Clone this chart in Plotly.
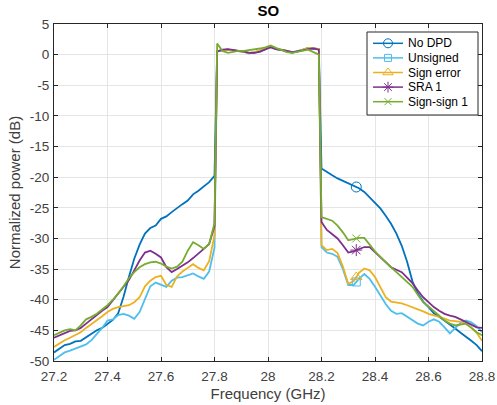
import numpy as np
import plotly.graph_objects as go

# ---------------- data ----------------
freq_left = [27.20, 27.22, 27.24, 27.26, 27.28, 27.30, 27.32, 27.34, 27.36, 27.38,
             27.40, 27.42, 27.44, 27.46, 27.48, 27.50, 27.52, 27.54, 27.56, 27.58,
             27.60, 27.62, 27.64, 27.66, 27.68, 27.70, 27.72, 27.74, 27.76, 27.78, 27.80]
freq_band = [27.81, 27.83, 27.85, 27.87, 27.89, 27.91, 27.93, 27.95, 27.97, 27.99,
             28.01, 28.03, 28.05, 28.07, 28.09, 28.11, 28.13, 28.15, 28.17, 28.19]
freq_right = [28.20, 28.22, 28.24, 28.26, 28.28, 28.30, 28.32, 28.34, 28.36, 28.38,
              28.40, 28.42, 28.44, 28.46, 28.48, 28.50, 28.52, 28.54, 28.56, 28.58,
              28.60, 28.62, 28.64, 28.66, 28.68, 28.70, 28.72, 28.74, 28.76, 28.78, 28.80]

no_dpd_left = [-48.6, -48.0, -47.4, -47.2, -46.8, -46.7, -46.1, -45.6, -45.0, -44.6,
               -43.9, -43.3, -42.2, -39.5, -36.3, -33.3, -31.0, -29.2, -28.3, -27.9,
               -26.8, -26.4, -25.7, -25.0, -24.4, -23.8, -22.8, -22.2, -21.5, -20.8, -19.8]
unsigned_left = [-49.8, -49.2, -48.6, -48.3, -48.0, -47.7, -47.3, -46.6, -45.6, -44.6,
                 -43.4, -43.2, -42.5, -42.3, -42.6, -43.1, -42.0, -39.8, -37.8, -37.2,
                 -37.6, -37.9, -36.9, -36.4, -36.3, -36.0, -35.7, -36.2, -36.6, -35.4, -31.5]
sign_error_left = [-47.7, -47.1, -46.6, -46.2, -45.8, -45.3, -44.6, -44.0, -43.4, -42.7,
                   -42.0, -41.5, -41.2, -41.1, -40.9, -40.4, -39.6, -37.8, -36.9, -36.3,
                   -36.1, -37.6, -37.9, -36.2, -35.4, -34.8, -34.2, -34.8, -35.2, -33.7, -29.5]
sra1_left = [-46.2, -45.8, -45.4, -45.1, -45.0, -44.6, -43.9, -43.2, -42.4, -41.8,
             -41.2, -40.1, -39.0, -37.9, -36.8, -35.2, -33.6, -32.3, -32.0, -32.5,
             -33.1, -34.7, -35.5, -35.0, -34.5, -33.9, -33.2, -32.5, -31.7, -30.9, -28.0]
signsign1_left = [-45.8, -45.4, -45.0, -44.8, -45.0, -44.2, -43.2, -42.8, -42.3, -41.6,
                  -40.9, -40.0, -39.0, -37.8, -36.5, -35.5, -34.7, -34.2, -33.9, -33.8,
                  -34.1, -34.6, -34.9, -34.6, -33.8, -32.0, -30.6, -31.1, -31.7, -30.9, -27.5]

no_dpd_band = [0.6, 0.7, 0.8, 0.7, 0.6, 0.5, 0.2, 0.3, 0.5, 0.9,
               1.3, 0.9, 0.8, 0.6, 0.3, 0.5, 0.8, 1.1, 1.0, 0.9]
unsigned_band = [0.6, 0.7, 0.8, 0.7, 0.6, 0.5, 0.3, 0.4, 0.6, 0.9,
                 1.3, 0.9, 0.8, 0.6, 0.4, 0.5, 0.8, 1.1, 1.0, 0.9]
sign_error_band = [0.6, 0.7, 0.8, 0.7, 0.6, 0.5, 0.3, 0.4, 0.6, 0.9,
                   1.3, 0.9, 0.8, 0.6, 0.4, 0.5, 0.8, 1.1, 1.0, 0.9]
sra1_band = [0.5, 0.8, 0.9, 0.8, 0.6, 0.5, 0.3, 0.3, 0.5, 0.8,
             1.2, 0.9, 0.8, 0.6, 0.4, 0.5, 0.7, 0.9, 1.0, 0.8]
signsign1_band = [1.8, 0.6, 0.3, 0.5, 0.6, 0.6, 0.7, 0.9, 1.0, 1.2,
                  1.5, 1.1, 0.7, 0.4, 0.3, 0.5, 0.7, 0.8, 0.4, 0.0]

no_dpd_right = [-18.6, -19.2, -19.7, -20.2, -20.6, -21.1, -21.4, -21.8, -22.4, -23.3,
                -24.3, -25.1, -26.3, -27.6, -29.2, -31.2, -33.8, -37.0, -39.0, -40.3,
                -41.2, -42.2, -42.8, -43.4, -44.0, -44.7, -45.4, -46.0, -46.7, -47.4, -48.4]
unsigned_right = [-31.4, -32.3, -32.5, -33.0, -35.0, -37.6, -37.6, -36.6, -35.8, -36.6,
                  -37.9, -39.3, -40.7, -41.8, -42.3, -42.2, -42.8, -43.4, -43.9, -44.2,
                  -43.6, -43.2, -43.6, -44.5, -45.5, -44.6, -43.8, -43.4, -43.7, -44.3, -45.3]
sign_error_right = [-31.1, -31.9, -31.7, -32.4, -34.6, -37.4, -37.0, -35.6, -34.9, -35.2,
                    -36.3, -38.0, -39.6, -40.3, -40.4, -40.6, -40.9, -41.2, -41.5, -41.9,
                    -42.3, -42.5, -42.8, -43.1, -43.4, -43.5, -43.6, -44.0, -44.5, -45.4, -46.7]
sra1_right = [-27.3, -28.6, -29.3, -30.0, -31.1, -32.3, -32.1, -31.7, -31.4, -31.4,
              -32.2, -33.0, -33.9, -34.7, -35.1, -35.5, -36.4, -37.3, -38.5, -39.6,
              -40.4, -41.2, -41.8, -42.3, -42.6, -42.8, -43.2, -43.6, -44.0, -44.5, -44.6]
signsign1_right = [-26.5, -26.8, -27.1, -27.9, -29.0, -30.3, -30.1, -29.9, -29.9, -31.1,
                   -32.1, -33.0, -33.9, -34.7, -35.5, -36.3, -37.1, -37.9, -39.2, -40.4,
                   -41.1, -41.8, -42.6, -43.4, -43.9, -44.2, -44.0, -43.9, -44.6, -45.3, -45.8]

series_names = ["No DPD", "Unsigned", "Sign error", "SRA 1", "Sign-sign 1"]
marker_freq = 28.33

x_tick_vals = [27.2, 27.4, 27.6, 27.8, 28.0, 28.2, 28.4, 28.6, 28.8]
x_tick_text = ["27.2", "27.4", "27.6", "27.8", "28", "28.2", "28.4", "28.6", "28.8"]
y_tick_vals = [-50, -45, -40, -35, -30, -25, -20, -15, -10, -5, 0, 5]
y_tick_text = ["-50", "-45", "-40", "-35", "-30", "-25", "-20", "-15", "-10", "-5", "0", "5"]

# ---------------- styles ----------------
colors = ["#0072BD", "#4DBEEE", "#EDB120", "#7E2F8E", "#77AC30"]
symbols = ["circle-open", "square-open", "triangle-up-open", "asterisk-open", "x-thin-open"]
msizes = [10, 8, 10, 10, 8]

freq = freq_left + freq_band + freq_right
series = [
    no_dpd_left + no_dpd_band + no_dpd_right,
    unsigned_left + unsigned_band + unsigned_right,
    sign_error_left + sign_error_band + sign_error_right,
    sra1_left + sra1_band + sra1_right,
    signsign1_left + signsign1_band + signsign1_right,
]

FONT = "Liberation Sans, Arial, Helvetica, sans-serif"
W, H = 497, 405
ML, MR, MT, MB = 54, 15, 24, 44

fig = go.Figure()
for name, ys, c in zip(series_names, series, colors):
    fig.add_trace(go.Scatter(x=freq, y=ys, mode="lines", line=dict(color=c, width=1.8),
                             name=name, showlegend=False, hoverinfo="skip"))
for name, ys, c, s, ms in zip(series_names, series, colors, symbols, msizes):
    my = float(np.interp(marker_freq, freq, ys))
    fig.add_trace(go.Scatter(x=[marker_freq], y=[my], mode="markers",
                             marker=dict(symbol=s, size=ms, color=c, line=dict(color=c, width=1)),
                             showlegend=False, hoverinfo="skip"))

# ---- legend drawn in an overlay axis measured in pixels ----
leg_box = (367, 478, 32, 115)  # left, right, top, bottom (px)
row_y0, row_dy = 43.3, 14.6
line_x0, line_x1, text_x = 373, 403, 406
bx0, bx1, by0, by1 = leg_box
fig.add_trace(go.Scatter(x=[bx0, bx1, bx1, bx0, bx0], y=[by0, by0, by1, by1, by0],
                         mode="lines", fill="toself", fillcolor="white",
                         line=dict(color="#262626", width=1), xaxis="x2", yaxis="y2",
                         showlegend=False, hoverinfo="skip"))
annotations = []
for i, (name, c, s, ms) in enumerate(zip(series_names, colors, symbols, msizes)):
    ry = row_y0 + i * row_dy
    fig.add_trace(go.Scatter(x=[line_x0, line_x1], y=[ry, ry], mode="lines",
                             line=dict(color=c, width=1.5), xaxis="x2", yaxis="y2",
                             showlegend=False, hoverinfo="skip"))
    fig.add_trace(go.Scatter(x=[(line_x0 + line_x1) / 2], y=[ry], mode="markers",
                             marker=dict(symbol=s, size=ms - 1, color=c, line=dict(color=c, width=1)),
                             xaxis="x2", yaxis="y2", showlegend=False, hoverinfo="skip"))
    annotations.append(dict(x=text_x, y=ry, xref="x2", yref="y2", text=name, showarrow=False,
                            xanchor="left", yanchor="middle",
                            font=dict(family=FONT, size=12, color="black")))

axis_common = dict(showline=True, linecolor="#262626", linewidth=1, mirror="allticks",
                   ticks="inside", ticklen=4, tickcolor="#262626", automargin=False,
                   showgrid=True, gridcolor="#E5E5E5", gridwidth=1, zeroline=False,
                   tickfont=dict(family=FONT, size=13.5, color="#404040"))

fig.update_layout(
    width=W, height=H,
    margin=dict(l=ML, r=MR, t=MT, b=MB),
    paper_bgcolor="white", plot_bgcolor="white",
    showlegend=False,
    title=dict(text="<b>SO</b>", x=0.54, xanchor="center", y=1 - 10.5 / H, yanchor="middle",
               font=dict(family=FONT, size=15, color="black")),
    xaxis=dict(range=[27.2, 28.8], tickvals=x_tick_vals, ticktext=x_tick_text,
               ticklabelstandoff=3,
               title=dict(text="Frequency (GHz)", font=dict(family=FONT, size=15, color="#404040"),
                          standoff=5),
               **axis_common),
    yaxis=dict(range=[-50, 5], tickvals=y_tick_vals, ticktext=y_tick_text,
               ticklabelstandoff=1,
               title=dict(text="Normalized power (dB)", font=dict(family=FONT, size=15, color="#404040"),
                          standoff=5),
               **axis_common),
    xaxis2=dict(overlaying="x", range=[ML, W - MR], visible=False, fixedrange=True),
    yaxis2=dict(overlaying="y", range=[H - MB, MT], visible=False, fixedrange=True),
    annotations=annotations,
)

fig.write_html("out.html")
